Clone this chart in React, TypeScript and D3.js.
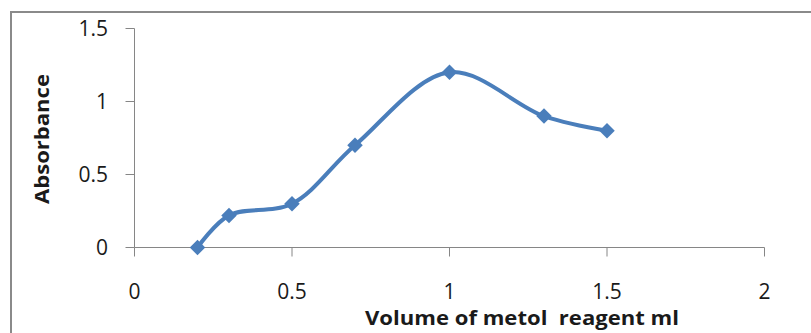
import React from "react";
import * as d3 from "d3";

const volumes = [0.2, 0.3, 0.5, 0.7, 1.0, 1.3, 1.5];
const absorbance = [0, 0.22, 0.3, 0.7, 1.2, 0.9, 0.8];
const xTicks = [0, 0.5, 1, 1.5, 2];
const yTicks = [0, 0.5, 1, 1.5];
const xTitle = "Volume of metol  reagent ml";
const yTitle = "Absorbance";

const W = 811;
const H = 333;
const FONT = "'Open Sans', 'Liberation Sans', sans-serif";
const LINE = "#4A7EBB";
const AXIS = "#868686";

export default function App() {
  const x = d3.scaleLinear().domain([0, 2]).range([134.5, 764.5]);
  const y = d3.scaleLinear().domain([0, 1.5]).range([247.5, 28.5]);
  const pts: [number, number][] = volumes.map((v, i) => [v, absorbance[i]]);
  const line = d3
    .line<[number, number]>()
    .x((d) => x(d[0]))
    .y((d) => y(d[1]))
    .curve(d3.curveCatmullRom.alpha(0.5));
  const diamond = d3.symbol().type(d3.symbolSquare).size(120)();
  const fmt = (v: number) => String(v);

  return (
    <svg
      width={W}
      height={H}
      style={{ position: "absolute", left: 0, top: 0, background: "#fff" }}
    >
      <rect x={0} y={0} width={W} height={H} fill="#fff" />
      <rect
        x={11}
        y={12}
        width={W + 20}
        height={H + 20}
        fill="none"
        stroke="#8a8a8a"
        strokeWidth={2}
      />
      {/* y axis */}
      <line x1={x(0)} x2={x(0)} y1={y(1.5)} y2={y(0)} stroke={AXIS} strokeWidth={1} />
      {yTicks.map((t) => (
        <g key={"y" + t}>
          <line x1={x(0) - 9} x2={x(0)} y1={y(t)} y2={y(t)} stroke={AXIS} strokeWidth={1} />
          <text
            x={108}
            y={y(t)}
            dy="0.36em"
            textAnchor="end"
            fontFamily={FONT}
            fontSize={21}
            fill="#1a1a1a"
          >
            {fmt(t)}
          </text>
        </g>
      ))}
      {/* x axis */}
      <line x1={x(0)} x2={x(2)} y1={y(0)} y2={y(0)} stroke={AXIS} strokeWidth={1} />
      {xTicks.map((t) => (
        <g key={"x" + t}>
          <line x1={x(t)} x2={x(t)} y1={y(0)} y2={y(0) + 9} stroke={AXIS} strokeWidth={1} />
          <text
            x={x(t)}
            y={298.5}
            textAnchor="middle"
            fontFamily={FONT}
            fontSize={21}
            fill="#1a1a1a"
          >
            {fmt(t)}
          </text>
        </g>
      ))}
      {/* series */}
      <path d={line(pts) || ""} fill="none" stroke={LINE} strokeWidth={4} />
      {pts.map((p, i) => (
        <path
          key={"m" + i}
          d={diamond || ""}
          transform={`translate(${x(p[0])},${y(p[1])}) rotate(45)`}
          fill={LINE}
        />
      ))}
      {/* titles */}
      <text
        x={522}
        y={325}
        textAnchor="middle"
        fontFamily={FONT}
        fontWeight="bold"
        fontSize={20}
        fill="#1a1a1a"
        style={{ whiteSpace: "pre" }}
        textLength={314}
        lengthAdjust="spacingAndGlyphs"
      >
        {xTitle}
      </text>
      <text
        transform={`translate(49,139) rotate(-90)`}
        textAnchor="middle"
        fontFamily={FONT}
        fontWeight="bold"
        fontSize={20}
        fill="#1a1a1a"
        textLength={130}
        lengthAdjust="spacingAndGlyphs"
      >
        {yTitle}
      </text>
    </svg>
  );
}
